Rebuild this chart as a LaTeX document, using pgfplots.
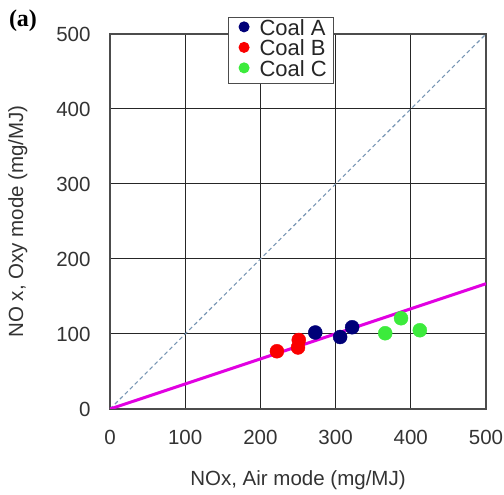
\documentclass[border=0pt]{standalone}
\usepackage{fontspec}
\setmainfont{Liberation Sans}
\newfontfamily\serifb{Liberation Serif}
\usepackage{pgfplots}
\pgfplotsset{compat=1.18}
\definecolor{coalA}{RGB}{0,0,120}
\definecolor{coalB}{RGB}{250,0,0}
\definecolor{coalC}{RGB}{60,235,60}
\definecolor{fitline}{RGB}{225,0,225}
\definecolor{diag}{RGB}{120,150,180}
\pgfplotsset{
    dotlegend/.style={legend image code/.code={
        \path (0,0) (23pt,0);
        \fill[#1] (12pt,3pt) circle (5pt);}}
}
\begin{document}
\begin{tikzpicture}
\useasboundingbox (-110pt,-86pt) rectangle (394pt,409pt);
\begin{axis}[
    width=376pt, height=375pt, scale only axis,
    xmin=0, xmax=500, ymin=0, ymax=500,
    xtick={0,100,...,500}, ytick={0,100,...,500},
    grid=major,
    grid style={black!85, line width=1pt},
    axis line style={black!70, line width=1.2pt},
    major tick length=0pt,
    /pgf/number format/assume math mode=true,
    tick label style={font=\fontsize{20.5}{23}\selectfont, text=black!80},
    xticklabel style={anchor=center, yshift=-28pt},
    yticklabel style={anchor=east, xshift=-16pt},
    xlabel={NOx, Air mode (mg/MJ)},
    ylabel={NO x, Oxy mode (mg/MJ)},
    label style={font=\fontsize{20.5}{23}\selectfont, text=black!80},
    xlabel style={at={(axis description cs:0.5,-0.189)}, anchor=center},
    ylabel style={at={(axis description cs:-0.245,0.5)}, anchor=center},
    legend style={at={(rel axis cs:0.314,1.045)}, anchor=north west,
        draw=black!70, line width=1pt, font=\fontsize{22}{24}\selectfont,
        row sep=0pt, inner xsep=3pt, inner ysep=2pt, text=black!85,
        nodes={inner xsep=4pt, inner ysep=1pt, text height=14.5pt, text depth=4pt}},
    legend cell align=left,
]
\addplot[diag, dash pattern=on 4pt off 3pt, line width=1.1pt, forget plot] coordinates {(0,0) (500,500)};
\addplot[fitline, line width=3pt, forget plot] coordinates {(0,0) (500,167)};
\addplot[only marks, mark=*, mark size=7pt, mark options={draw=coalA, fill=coalA}, dotlegend=coalA] coordinates {
    (273,102) (306,96) (322,109)
};
\addlegendentry{Coal A}
\addplot[only marks, mark=*, mark size=7pt, mark options={draw=coalB, fill=coalB}, dotlegend=coalB] coordinates {
    (222,77) (250,82) (251,92)
};
\addlegendentry{Coal B}
\addplot[only marks, mark=*, mark size=7pt, mark options={draw=coalC, fill=coalC}, dotlegend=coalC] coordinates {
    (366,101) (387,121) (412,105)
};
\addlegendentry{Coal C}
\end{axis}
\node[font=\serifb\bfseries\fontsize{24}{26}\selectfont] at (-87pt,388pt) {(a)};
\end{tikzpicture}
\end{document}
